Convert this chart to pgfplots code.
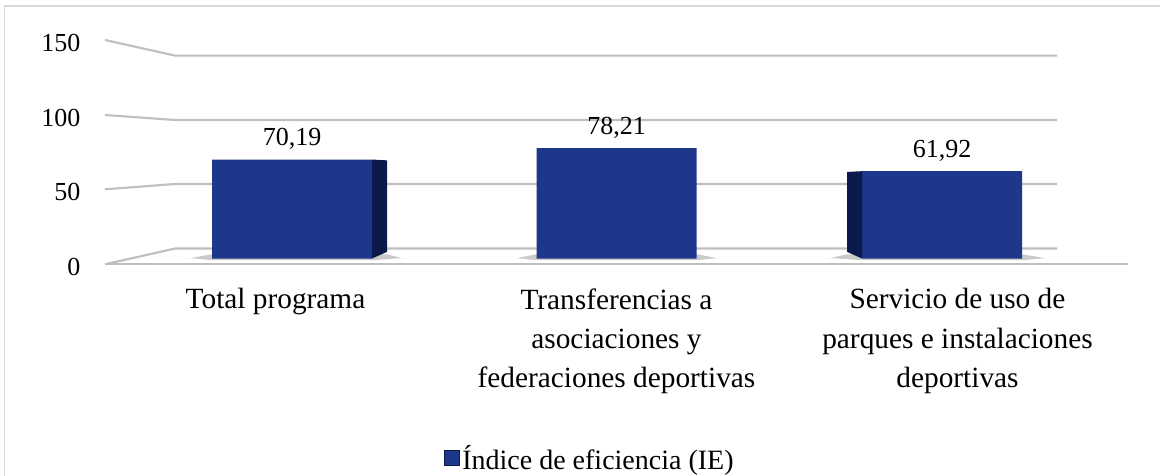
\documentclass[border=0pt]{standalone}
\usepackage{pgfplots}
\pgfplotsset{compat=1.18}
\usepackage{fontspec}
\setmainfont{Liberation Serif}
\definecolor{barblue}{RGB}{29,55,138}
\definecolor{sidedark}{RGB}{11,26,74}
\definecolor{gridgray}{RGB}{191,191,191}
\definecolor{framegray}{RGB}{217,217,217}
\begin{document}
\begin{tikzpicture}
\draw[framegray, line width=1.1pt] (3.375pt,-10pt) rectangle (880pt,351.75pt);
\begin{axis}[
  at={(78.75pt,158.025pt)}, anchor=south west,
  scale only axis, width=767.25pt, height=168.225pt,
  xmin=105, xmax=1128, ymin=-4.11, ymax=154.96,
  clip=false,
  axis line style={draw=none},
  major tick length=0pt,
  xtick={275.5,616.5,957.5},
  xticklabels={Total programa, {Transferencias a\\asociaciones y\\federaciones deportivas}, {Servicio de uso de\\parques e instalaciones\\deportivas}},
  xticklabel style={align=center, font=\fontsize{22}{29.5}\selectfont, yshift=-14.5pt},
  ytick={-4.11,49.08,101.77,154.96},
  yticklabels={0,50,100,150},
  yticklabel style={font=\fontsize{19.5}{23}\selectfont, xshift=-15pt, yshift=-2pt},
  /pgf/number format/assume math mode=true,
  /pgf/number format/fixed,
  /pgf/number format/fixed zerofill,
  /pgf/number format/precision=2,
  /pgf/number format/use comma,
  legend style={at={(0.474,-0.864)}, anchor=center, draw=none, fill=none,
    font=\fontsize{21}{25}\selectfont},
  legend image code/.code={\draw[fill=barblue,draw=sidedark,line width=0.6pt] (0pt,-5.5pt) rectangle (11.5pt,6pt);},
]
% perspective grid
\addplot[gridgray, line width=1.6pt, forget plot] coordinates {(105,154.96) (175,143.9) (1057,143.9)};
\addplot[gridgray, line width=1.6pt, forget plot] coordinates {(105,101.77) (175,98.23) (1057,98.23)};
\addplot[gridgray, line width=1.6pt, forget plot] coordinates {(105,49.08) (175,52.84) (1057,52.84)};
\addplot[gridgray, line width=1.6pt, forget plot] coordinates {(105,-4.11) (175,7.09) (1057,7.09)};
\addplot[gridgray, line width=1.6pt, forget plot] coordinates {(105,-4.11) (1128,-4.11)};
% floor shadows
\addplot[fill=black!35, draw=none, fill opacity=0.6, forget plot] coordinates {(190,0.3) (212,3) (387,3) (402,0.3) (372,-1.2) (212,-1.2)} --cycle;
\addplot[fill=black!35, draw=none, fill opacity=0.6, forget plot] coordinates {(517,0.3) (536,3) (697,3) (717,0.3) (697,-1.2) (536,-1.2)} --cycle;
\addplot[fill=black!35, draw=none, fill opacity=0.6, forget plot] coordinates {(830,0.3) (847,3) (1022,3) (1045,0.3) (1022,-1.2) (862,-1.2)} --cycle;
% bars
\addplot[ybar, bar width=160, fill=barblue, draw=none,
  nodes near coords,
  nodes near coords style={font=\fontsize{19.5}{23}\selectfont, text=black, yshift=4pt}]
  coordinates {(292,70.19) (616.5,78.21) (942,61.92)};
\addlegendentry{Índice de eficiencia (IE)}
% side faces
\addplot[fill=sidedark, draw=none, forget plot] coordinates {(372,0) (387,4.7) (387,69.6) (372,70.19)} --cycle;
\addplot[fill=sidedark, draw=none, forget plot] coordinates {(862,0) (847,4.7) (847,61.4) (862,61.92)} --cycle;
\end{axis}
\pgfresetboundingbox
\path[use as bounding box] (0pt,0pt) rectangle (870pt,356.25pt);
\end{tikzpicture}
\end{document}
